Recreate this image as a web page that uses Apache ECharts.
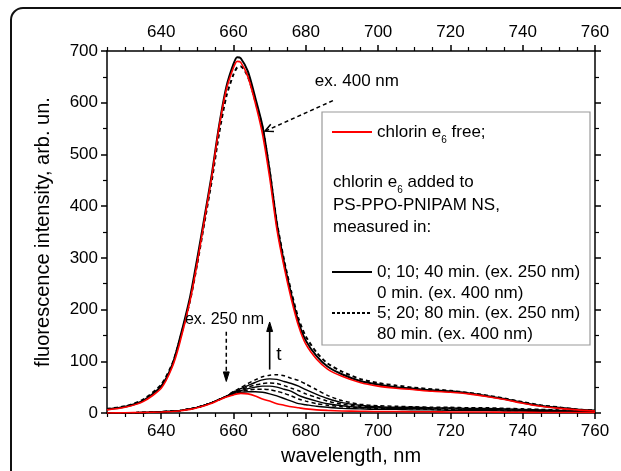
<!DOCTYPE html>
<html>
<head>
<meta charset="utf-8">
<script src="https://cdn.jsdelivr.net/npm/echarts@6/dist/echarts.min.js"></script>
<style>
  html, body { margin: 0; padding: 0; background: #fff; }
  #chart { width: 621px; height: 471px; }
</style>
</head>
<body>
<div id="chart"></div>
<script>
// Emission wavelengths, nm
const wavelengths = [625, 630, 635, 640, 643, 645, 648, 650, 652, 654, 656, 658, 660, 661, 662, 664, 666, 668, 670, 672, 674, 676, 678, 680, 683, 686, 690, 695, 700, 705, 710, 715, 720, 725, 730, 735, 740, 745, 750, 755, 760];

// Excitation 400 nm
const ex400Free = [6, 11, 22, 48, 88, 132, 218, 292, 375, 458, 552, 625, 668, 680, 678, 650, 600, 540, 455, 355, 282, 220, 168, 133, 104, 85, 71, 59, 52, 48, 45, 42, 40, 37, 32, 26, 19, 13, 9, 6, 4];
const ex400Min0 = [7, 12, 24, 52, 92, 140, 225, 300, 380, 462, 555, 630, 675, 688, 686, 660, 610, 555, 468, 365, 290, 228, 175, 140, 110, 90, 75, 62, 55, 50, 47, 44, 42, 38, 33, 27, 20, 14, 10, 7, 5];
const ex400Min80 = [8, 13, 26, 55, 94, 138, 218, 290, 370, 450, 540, 612, 655, 668, 670, 650, 604, 552, 468, 368, 295, 234, 182, 148, 117, 96, 80, 66, 58, 53, 49, 46, 43, 39, 34, 28, 21, 15, 11, 7, 5];

// Excitation 250 nm
const ex250Free = [0, 0.5, 1, 2, 3, 4, 7, 10, 14, 19, 25, 31, 35, 37, 38, 37, 33, 27, 23, 18, 15, 12, 10, 8, 6, 5, 4, 3.5, 3, 3, 2.5, 2.5, 2, 2, 2, 1.5, 1.5, 1, 1, 1, 1];
const ex250Min0 = [0, 0.5, 1, 2.5, 3.5, 4.5, 8, 11, 15, 20, 26, 32, 37, 39, 40, 41, 41, 40, 37, 33, 28, 23, 18, 16, 13, 11, 9, 8, 7, 7, 6, 6, 5, 5, 5, 4, 4, 3, 3, 2, 2];
const ex250Min5 = [0, 0.5, 1, 2.5, 3.5, 4.5, 8, 11, 15, 20, 26, 32, 38, 40, 42, 44, 46, 46, 45, 42, 38, 33, 27, 23, 18, 15, 12, 10, 9, 8, 8, 7, 7, 6, 6, 5, 5, 4, 3, 3, 2];
const ex250Min10 = [0, 0.5, 1, 2.5, 3.5, 4.5, 8, 11, 15, 20, 26, 32, 39, 41, 43, 47, 50, 52, 52, 50, 46, 42, 34, 29, 23, 18, 14, 11, 10, 9, 9, 8, 8, 7, 7, 6, 5, 5, 4, 3, 3];
const ex250Min20 = [0, 0.5, 1, 2.5, 3.5, 4.5, 8, 11, 15, 20, 26, 32, 40, 42, 45, 50, 54, 57, 58, 57, 53, 48, 43, 37, 30, 23, 17, 13, 11, 10, 10, 9, 9, 8, 8, 7, 6, 5, 4, 4, 3];
const ex250Min40 = [0, 0.5, 1, 2.5, 3.5, 4.5, 8, 11, 15, 20, 26, 32, 41, 43, 47, 53, 59, 64, 66, 65, 61, 57, 52, 45, 36, 28, 20, 15, 12, 11, 11, 10, 10, 9, 9, 8, 7, 6, 5, 4, 4];
const ex250Min80 = [0, 0.5, 1, 2.5, 3.5, 4.5, 8, 11, 15, 20, 26, 32, 42, 45, 49, 57, 64, 70, 73, 74, 72, 67, 63, 56, 45, 34, 24, 17, 14, 13, 12, 11, 11, 10, 10, 9, 8, 7, 6, 5, 4];

// Axis ticks
const xTickLabels = [640, 660, 680, 700, 720, 740, 760];
const xMinorTicks = [625, 630, 635, 645, 650, 655, 665, 670, 675, 685, 690, 695, 705, 710, 715, 725, 730, 735, 745, 750, 755];
const yTickLabels = [0, 100, 200, 300, 400, 500, 600, 700];

// Annotations, in data coordinates [wavelength, intensity]
const ex400Text = [682.5, 641];
const ex400Arrow = [[687.5, 604], [668.7, 545]];
const ex250Text = [657.5, 180];
const ex250Arrow = [[658, 157], [658, 61]];
const timeArrow = [[670, 84], [670, 176]];
const timeText = [671.8, 113];

const FONT = '"Liberation Sans", Arial, Helvetica, sans-serif';
const INK = '#000';

const chart = echarts.init(document.getElementById('chart'), null, { renderer: 'canvas' });
const toPairs = values => wavelengths.map((w, i) => [w, values[i]]);

function spectrum(name, values, color, dashed, width, z) {
  return {
    name, type: 'line', data: toPairs(values),
    xAxisIndex: 0, yAxisIndex: 0,
    symbol: 'none', showSymbol: false, smooth: 0.25, silent: true, z,
    lineStyle: { color, width, type: dashed ? [4, 3] : 'solid' }
  };
}

function xAxisDef(position, withLabels) {
  return {
    type: 'value', position, min: 625, max: 760,
    axisLine: { show: withLabels, onZero: false, lineStyle: { color: INK, width: 1.5 } },
    axisTick: withLabels
      ? { show: true, customValues: xTickLabels, length: 6, lineStyle: { color: INK, width: 1.5 } }
      : { show: true, customValues: xMinorTicks, length: 4, lineStyle: { color: INK, width: 1.2 } },
    axisLabel: withLabels
      ? { show: true, customValues: xTickLabels, fontSize: 17, color: INK, fontFamily: FONT, margin: 10 }
      : { show: false },
    splitLine: { show: false }
  };
}

const bottomMain = xAxisDef('bottom', true);
bottomMain.name = 'wavelength, nm';
bottomMain.nameLocation = 'middle';
bottomMain.nameGap = 33;
bottomMain.nameTextStyle = { fontSize: 20, color: INK, fontFamily: FONT };

function yAxisDef(position, withLabels) {
  return {
    type: 'value', position, min: 0, max: 700, interval: 100,
    axisLine: { show: true, onZero: false, lineStyle: { color: INK, width: 1.5 } },
    axisTick: { show: true, length: 6, lineStyle: { color: INK, width: 1.5 } },
    minorTick: { show: true, splitNumber: 2, length: 4, lineStyle: { color: INK, width: 1.2 } },
    axisLabel: withLabels
      ? { show: true, fontSize: 17, color: INK, fontFamily: FONT, margin: 9,
          formatter: v => (yTickLabels.includes(v) ? String(v) : '') }
      : { show: false },
    splitLine: { show: false }
  };
}

const leftMain = yAxisDef('left', true);
leftMain.name = 'fluorescence intensity, arb. un.';
leftMain.nameLocation = 'middle';
leftMain.nameRotate = 90;
leftMain.nameGap = 54;
leftMain.nameTextStyle = { fontSize: 20, color: INK, fontFamily: FONT };

chart.setOption({
  animation: false,
  backgroundColor: '#fff',
  grid: { left: 107, right: 26, top: 51, bottom: 54 },
  xAxis: [bottomMain, xAxisDef('bottom', false), xAxisDef('top', true), xAxisDef('top', false)],
  yAxis: [leftMain, yAxisDef('right', false)],
  series: [
    spectrum('ex250 80 min', ex250Min80, INK, true, 1.5, 2),
    spectrum('ex250 20 min', ex250Min20, INK, true, 1.5, 2),
    spectrum('ex250 5 min', ex250Min5, INK, true, 1.5, 2),
    spectrum('ex250 40 min', ex250Min40, INK, false, 1.4, 3),
    spectrum('ex250 10 min', ex250Min10, INK, false, 1.4, 3),
    spectrum('ex250 0 min', ex250Min0, INK, false, 1.4, 3),
    spectrum('ex250 free', ex250Free, '#ff0000', false, 1.6, 4),
    spectrum('ex400 80 min', ex400Min80, INK, true, 2, 2),
    spectrum('ex400 0 min', ex400Min0, INK, false, 2, 3),
    spectrum('ex400 free', ex400Free, '#ff0000', false, 1.6, 4)
  ]
});

// ---- overlay: frame, legend box, arrows and labels ----
const px = p => chart.convertToPixel({ xAxisIndex: 0, yAxisIndex: 0 }, p);

function arrowHead(tip, from, len, halfAngle) {
  const a = Math.atan2(tip[1] - from[1], tip[0] - from[0]);
  return [
    [tip[0] - len * Math.cos(a - halfAngle), tip[1] - len * Math.sin(a - halfAngle)],
    tip,
    [tip[0] - len * Math.cos(a + halfAngle), tip[1] - len * Math.sin(a + halfAngle)]
  ];
}

const textStyle = (extra) => Object.assign({ font: '17px ' + FONT, fill: INK }, extra);
const rich = {
  sub: { fontSize: 10, fontFamily: FONT, fill: INK, verticalAlign: 'bottom', lineHeight: 26 }
};

const graphics = [];

// rounded page frame
graphics.push({
  type: 'rect', silent: true, z: 1,
  shape: { x: 11, y: 8, width: 700, height: 600, r: 12 },
  style: { fill: 'none', stroke: '#111', lineWidth: 2 }
});

// ex. 400 nm annotation
{
  const t = px(ex400Text);
  graphics.push({ type: 'text', x: t[0], y: t[1], z: 20,
    style: textStyle({ text: 'ex. 400 nm', textAlign: 'left', textVerticalAlign: 'middle' }) });
  const a = px(ex400Arrow[0]), b = px(ex400Arrow[1]);
  graphics.push({ type: 'line', z: 20, shape: { x1: a[0], y1: a[1], x2: b[0], y2: b[1] },
    style: { stroke: INK, lineWidth: 1.5, lineDash: [4, 3] } });
  graphics.push({ type: 'polyline', z: 20, shape: { points: arrowHead(b, a, 9, 0.45) },
    style: { stroke: INK, lineWidth: 1.5, fill: null } });
}

// ex. 250 nm annotation
{
  const t = px(ex250Text);
  graphics.push({ type: 'text', x: t[0], y: t[1], z: 20,
    style: textStyle({ text: 'ex. 250 nm', textAlign: 'center', textVerticalAlign: 'middle', font: '16px ' + FONT }) });
  const a = px(ex250Arrow[0]), b = px(ex250Arrow[1]);
  graphics.push({ type: 'line', z: 20, shape: { x1: a[0], y1: a[1], x2: b[0], y2: b[1] - 4 },
    style: { stroke: INK, lineWidth: 1.5, lineDash: [4, 3] } });
  graphics.push({ type: 'polygon', z: 20, shape: { points: arrowHead(b, a, 10, 0.3) },
    style: { fill: INK, stroke: INK, lineWidth: 1 } });
}

// time arrow
{
  const a = px(timeArrow[0]), b = px(timeArrow[1]);
  graphics.push({ type: 'line', z: 20, shape: { x1: a[0], y1: a[1], x2: b[0], y2: b[1] + 4 },
    style: { stroke: INK, lineWidth: 1.6 } });
  graphics.push({ type: 'polygon', z: 20, shape: { points: arrowHead(b, a, 10, 0.3) },
    style: { fill: INK, stroke: INK, lineWidth: 1 } });
  const t = px(timeText);
  graphics.push({ type: 'text', x: t[0], y: t[1], z: 20,
    style: textStyle({ text: 't', textAlign: 'left', textVerticalAlign: 'middle', font: '19px ' + FONT }) });
}

// legend box
const LX = 322, LY = 112;
graphics.push({ type: 'rect', z: 15, shape: { x: LX, y: LY, width: 268, height: 233 },
  style: { fill: '#fff', stroke: '#9a9a9a', lineWidth: 1.2 } });

function legendLine(y, color, dashed) {
  graphics.push({ type: 'line', z: 16, shape: { x1: LX + 10, y1: y, x2: LX + 50, y2: y },
    style: { stroke: color, lineWidth: 1.8, lineDash: dashed ? [3, 2] : null } });
}
function legendText(x, y, text) {
  graphics.push({ type: 'text', x, y, z: 16,
    style: textStyle({ text, rich, textAlign: 'left', textVerticalAlign: 'middle' }) });
}

legendLine(LY + 20, '#ff0000', false);
legendText(LX + 55, LY + 20, 'chlorin e{sub|6} free;');
legendText(LX + 11, LY + 70, 'chlorin e{sub|6} added to');
legendText(LX + 11, LY + 93, 'PS-PPO-PNIPAM NS,');
legendText(LX + 11, LY + 115, 'measured in:');
legendLine(LY + 160, INK, false);
legendText(LX + 55, LY + 160, '0; 10; 40 min. (ex. 250 nm)');
legendText(LX + 55, LY + 181, '0 min. (ex. 400 nm)');
legendLine(LY + 201, INK, true);
legendText(LX + 55, LY + 201, '5; 20; 80 min. (ex. 250 nm)');
legendText(LX + 55, LY + 222, '80 min. (ex. 400 nm)');

chart.setOption({ graphic: graphics });
</script>
</body>
</html>
